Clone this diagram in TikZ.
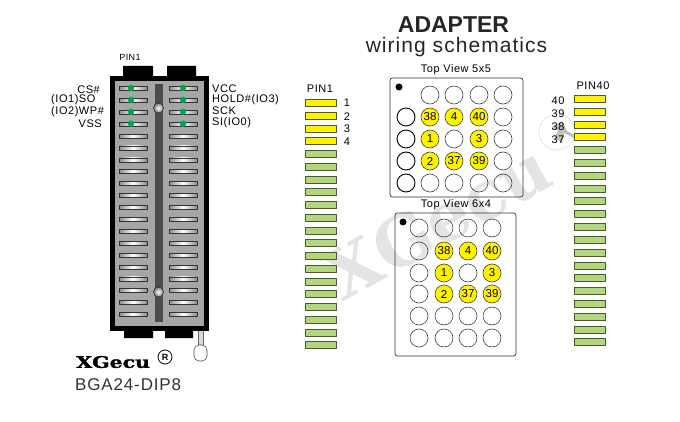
\documentclass[tikz,border=0pt]{standalone}
\usepackage{fontspec}
\setmainfont{Liberation Sans}
\newfontfamily\logofont[FakeBold=1.5]{DejaVu Serif}
\newfontfamily\markfont{DejaVu Serif}
\newfontfamily\widefont[LetterSpace=5]{Liberation Sans}
\definecolor{pinyellow}{HTML}{FFF200}
\definecolor{pingreen}{HTML}{B2D67C}
\definecolor{pinedge}{HTML}{4A5A30}
\definecolor{dotgreen}{HTML}{00A651}
\definecolor{markgray}{HTML}{E4E4E4}
\begin{document}
\begin{tikzpicture}[x=1pt, y=-1pt, line cap=round, line join=round]
	\tikzset{
		sidelabel/.style={font=\widefont\fontsize{11}{11}\selectfont, inner sep=0pt},
		strip/.style={draw=pinedge, line width=0.8pt, fill=#1},
		ball/.style={circle, draw=black!75, line width=0.6pt, minimum size=18pt, inner sep=0pt, font=\fontsize{11.5}{11.5}\selectfont},
		hit/.style={ball, fill=pinyellow},
		edgeball/.style={ball, draw=black, line width=0.9pt},
		viewbox/.style={draw=black!80, line width=0.7pt, rounded corners=2.5pt},
		viewlabel/.style={font=\widefont\fontsize{11}{11}\selectfont, inner sep=0pt},
		pinbar/.style={draw=black!80, line width=0.7pt, left color=black!45, right color=black!45, middle color=white},
		screw/.style={circle, draw=black!80, line width=0.7pt, inner color=white, outer color=black!50, minimum size=10pt, inner sep=0pt},
	}
	\useasboundingbox (0,0) rectangle (680,422);
	% watermark
	\node[text=markgray, rotate=29, font=\markfont\bfseries\fontsize{68}{68}\selectfont, inner sep=0pt] (mark) at (438,221) {XGecu};
	\draw[markgray, line width=0.8pt] (557,132) circle (18);
	\fill[black!25] (562,121) -- (569,135) -- (564,133) -- (562,143) -- (555,138) -- (558,130) -- (551,128) -- cycle;
	\draw[black!25, line width=3pt] (562,130) -- (575,137);
	% socket
	\fill[black] (123,66) rectangle (153,77) (167,66) rectangle (196,77);
	\fill[black] (124,329) rectangle (153,338) (165,329) rectangle (193,338);
	\draw[black!60, line width=0.6pt, fill=black!15] (198,330) rectangle (203,346);
	\draw[black!70, line width=0.6pt, fill=white, rounded corners=5pt] (194,345) rectangle (207,361);
	\draw[black, line width=5pt, fill=black!35, line cap=butt, line join=miter] (112,79) rectangle (206,328);
	\fill[black!70] (155,84) rectangle (163,322);
	\foreach \row in {0,...,19} {
		\draw[pinbar] (119,{86.5+11.9*\row}) rectangle (147,{90.5+11.9*\row});
		\draw[pinbar] (169,{86.5+11.9*\row}) rectangle (197,{90.5+11.9*\row});
	}
	\foreach \row in {0,...,3} {
		\fill[dotgreen] (131,{88+11.9*\row}) circle (3.2);
		\fill[dotgreen] (183,{88+11.9*\row}) circle (3.2);
	}
	\node[screw] (screwtop) at (158.5,108) {};
	\node[screw] (screwbot) at (158.5,292) {};
	% socket labels
	\node[font=\widefont\fontsize{9}{9}\selectfont, inner sep=0pt] (pintop) at (130,57) {PIN1};
	\node[sidelabel, anchor=east] (cs) at (100,90) {CS\#};
	\node[sidelabel, anchor=west] (so) at (51,100) {(IO1)SO};
	\node[sidelabel, anchor=west] (wp) at (51,112) {(IO2)WP\#};
	\node[sidelabel, anchor=east] (vss) at (102,123.5) {VSS};
	\node[sidelabel, anchor=west] (vcc) at (212,89) {VCC};
	\node[sidelabel, anchor=west] (hold) at (212,99.5) {HOLD\#(IO3)};
	\node[sidelabel, anchor=west] (sck) at (212,110.5) {SCK};
	\node[sidelabel, anchor=west] (si) at (212,122.5) {SI(IO0)};
	\node[anchor=west, inner sep=0pt, xscale=1.28, font=\logofont\bfseries\fontsize{16}{16}\selectfont] (logo) at (76,362) {XGecu};
	\node[circle, draw=black, line width=0.8pt, minimum size=14pt, inner sep=0pt, font=\bfseries\fontsize{9}{9}\selectfont] (reg) at (165,357) {R};
	\node[anchor=west, inner sep=0pt, text=black!80, font=\widefont\fontsize{17}{17}\selectfont] (part) at (75,385) {BGA24-DIP8};
	% titles
	\node[font=\bfseries\fontsize{23}{23}\selectfont, text=black!85, inner sep=0pt] (title) at (453.5,25) {ADAPTER};
	\node[font=\widefont\fontsize{21}{21}\selectfont, text=black!85, inner sep=0pt] (subtitle) at (456.5,47) {wiring schematics};
	% left strip
	\node[viewlabel] (pinleft) at (320,89) {PIN1};
	\foreach \row in {0,...,3} \draw[strip=pinyellow] (305,{99.5+12.75*\row}) rectangle (336,{106.5+12.75*\row});
	\foreach \row in {4,...,19} \draw[strip=pingreen] (305,{99.5+12.75*\row}) rectangle (336,{106.5+12.75*\row});
	\foreach \num/\ypos in {1/103,2/117,3/129,4/142}
		\node[sidelabel] (left\num) at (347,\ypos) {\num};
	% right strip
	\node[viewlabel] (pinright) at (593,86) {PIN40};
	\foreach \row in {0,...,3} \draw[strip=pinyellow] (574,{95.5+12.8*\row}) rectangle (605,{102.5+12.8*\row});
	\foreach \row in {4,...,19} \draw[strip=pingreen] (574,{95.5+12.8*\row}) rectangle (605,{102.5+12.8*\row});
	\foreach \num/\ypos in {40/101,39/114,38/127,37/140}
		\node[sidelabel] (right\num) at (558,\ypos) {\num};
	% top view 5x5
	\node[viewlabel] (viewa) at (456,70) {Top View 5x5};
	\draw[viewbox] (390,78) rectangle (523,197);
	\fill[black] (399,87) circle (3.5);
	\foreach \cx/\cy in {430/95,454/95,479/95,503/95,503/117,454/139,503/139,503/161,430/183,454/183,479/183,503/183}
		\node[ball] (a\cx\cy) at (\cx,\cy) {};
	\foreach \cy in {117,139,161,183}
		\node[edgeball] (aedge\cy) at (406,\cy) {};
	\foreach \cx/\cy/\num in {430/117/38,454/117/4,479/117/40,430/139/1,479/139/3,430/161/2,454/161/37,479/161/39}
		\node[hit] (ahit\num) at (\cx,\cy) {\num};
	% top view 6x4
	\node[viewlabel] (viewb) at (456,205) {Top View 6x4};
	\draw[viewbox] (395,213) rectangle (516,356);
	\fill[black] (403,222) circle (3.5);
	\foreach \cx/\cy in {419/228,444/228,468/228,492/228,419/251,419/273,468/273,419/294,419/316,444/316,468/316,492/316,419/338,444/338,468/338,492/338}
		\node[ball] (b\cx\cy) at (\cx,\cy) {};
	\foreach \cx/\cy/\num in {444/251/38,468/251/4,492/251/40,444/273/1,492/273/3,444/294/2,468/294/37,492/294/39}
		\node[hit] (bhit\num) at (\cx,\cy) {\num};
\end{tikzpicture}
\end{document}
